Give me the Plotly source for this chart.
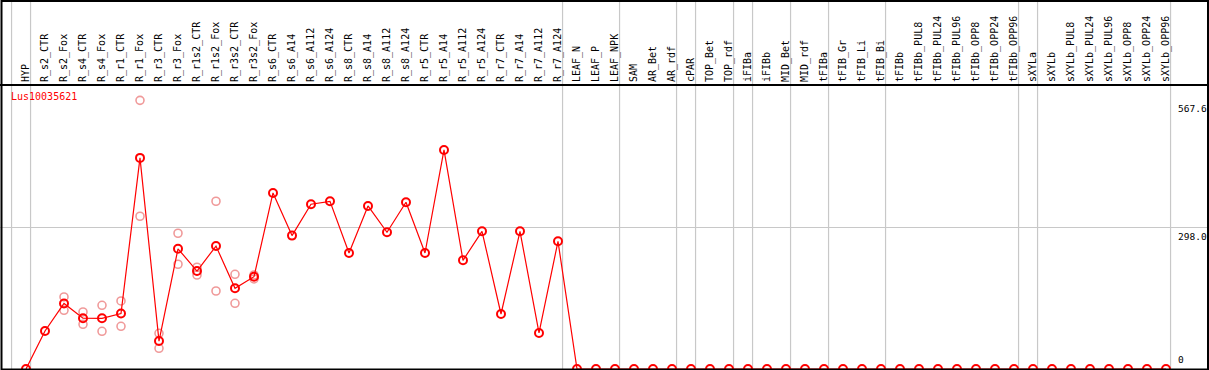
import plotly.graph_objects as go

categories = [
    "HYP", "R_s2_CTR", "R_s2_Fox", "R_s4_CTR", "R_s4_Fox", "R_r1_CTR", "R_r1_Fox",
    "R_r3_CTR", "R_r3_Fox", "R_r1s2_CTR", "R_r1s2_Fox", "R_r3s2_CTR", "R_r3s2_Fox",
    "R_s6_CTR", "R_s6_A14", "R_s6_A112", "R_s6_A124", "R_s8_CTR", "R_s8_A14",
    "R_s8_A112", "R_s8_A124", "R_r5_CTR", "R_r5_A14", "R_r5_A112", "R_r5_A124",
    "R_r7_CTR", "R_r7_A14", "R_r7_A112", "R_r7_A124", "LEAF_N", "LEAF_P", "LEAF_NPK",
    "SAM", "AR_Bet", "AR_rdf", "cPAR", "TOP_Bet", "TOP_rdf", "iFIBa", "iFIBb",
    "MID_Bet", "MID_rdf", "tFIBa", "tFIB_Gr", "tFIB_Li", "tFIB_Bi", "tFIBb",
    "tFIBb_PUL8", "tFIBb_PUL24", "tFIBb_PUL96", "tFIBb_OPP8", "tFIBb_OPP24",
    "tFIBb_OPP96", "sXYLa", "sXYLb", "sXYLb_PUL8", "sXYLb_PUL24", "sXYLb_PUL96",
    "sXYLb_OPP8", "sXYLb_OPP24", "sXYLb_OPP96",
]

mean_values = [
    0, 80.3, 138.5, 107.3, 107.1, 117.3, 446.0, 59.0, 254.0, 207.0, 259.7, 170.5,
    195.0, 371.9, 281.8, 348.0, 354.3, 245.1, 344.5, 288.8, 352.2, 245.1, 462.8,
    229.6, 290.9, 116.2, 290.9, 76.1, 269.8, 0, 0, 0,
    0, 0, 0, 0, 0, 0, 0, 0,
    0, 0, 0, 0, 0, 0, 0,
    0, 0, 0, 0, 0,
    0, 0, 0, 0, 0, 0,
    0, 0, 0,
]

rep_categories = [
    "R_s2_Fox", "R_s2_Fox", "R_s4_CTR", "R_s4_CTR", "R_s4_Fox", "R_s4_Fox",
    "R_r1_CTR", "R_r1_CTR", "R_r1_Fox", "R_r1_Fox", "R_r3_CTR", "R_r3_CTR",
    "R_r3_Fox", "R_r3_Fox", "R_r1s2_CTR", "R_r1s2_CTR", "R_r1s2_Fox", "R_r1s2_Fox",
    "R_r3s2_CTR", "R_r3s2_CTR", "R_r3s2_Fox", "R_r3s2_Fox",
]
rep_values = [
    152.2, 124.0, 120.5, 94.4, 134.6, 79.7,
    143.7, 90.2, 567.6, 322.7, 75.4, 43.7,
    286.8, 221.3, 215.0, 198.6, 354.4, 164.8,
    200.1, 138.8, 198.6, 190.2,
]

# index of the last category in each tissue group (separator drawn after it)
group_ends = [-1, 0, 28, 31, 34, 35, 37, 38, 40, 42, 45, 52, 53, 60]

y_ticks = [567.6, 298.0, 0]
y_tick_text = ["567.6", "298.0", "0"]
gene_name = "Lus10035621"

W, H = 1209, 370
TOP, BOTTOM = 85, 1
plot_h = H - TOP - BOTTOM
FONT = "DejaVu Sans Mono"
RED = "#ff0000"
PINK = "#f09a9a"
GRID = "#c8c8c8"

fig = go.Figure()

fig.add_trace(go.Scatter(
    x=rep_categories, y=rep_values, mode="markers",
    marker=dict(symbol="circle-open", size=8, color=PINK, line=dict(width=1.6, color=PINK)),
    hoverinfo="skip", showlegend=False,
))
fig.add_trace(go.Scatter(
    x=categories, y=mean_values, mode="lines+markers",
    line=dict(color=RED, width=1.2),
    marker=dict(symbol="circle-open", size=8, color=RED, line=dict(width=2, color=RED)),
    showlegend=False,
))

shapes = []
top_paper = 1 + TOP / plot_h
for e in group_ends:
    shapes.append(dict(type="line", xref="x", yref="paper", x0=e + 0.24, x1=e + 0.24,
                       y0=-0.01, y1=top_paper, line=dict(color=GRID, width=1.2), layer="below"))
# frame and header separator
px = lambda p: p / W
shapes.append(dict(type="line", xref="paper", yref="paper", x0=0, x1=1, y0=1, y1=1,
                   line=dict(color="black", width=2), layer="above"))
shapes.append(dict(type="rect", xref="paper", yref="paper", x0=px(1.5), x1=px(1208),
                   y0=-0.5 / plot_h, y1=top_paper - 1 / plot_h,
                   line=dict(color="black", width=2), layer="above"))

annotations = []
for v, t in zip(y_ticks, y_tick_text):
    annotations.append(dict(
        x=px(1176), xref="paper", y=v, yref="y", text=t, showarrow=False,
        xanchor="left", yanchor="bottom" if v == 0 else "top",
        yshift=2 if v == 0 else -1,
        font=dict(family=FONT, size=9.5, color="black"),
    ))
annotations.append(dict(
    x=px(9), xref="paper", y=1 - 12 / plot_h, yref="paper", text=gene_name,
    showarrow=False, xanchor="left", yanchor="middle",
    font=dict(family=FONT, size=10, color=RED),
))

fig.update_layout(
    width=W, height=H,
    margin=dict(l=0, r=0, t=TOP, b=BOTTOM, pad=0),
    paper_bgcolor="white", plot_bgcolor="white",
    shapes=shapes, annotations=annotations,
    xaxis=dict(
        type="category", categoryorder="array", categoryarray=categories,
        range=[-26 / 19, (W - 26) / 19],
        side="top", tickangle=-90, ticks="", showgrid=False, zeroline=False,
        showline=False, tickfont=dict(family=FONT, size=10, color="black"),
        ticklabelstandoff=2,
    ),
    yaxis=dict(
        range=[0, 600], tickvals=[298.0], showticklabels=False, ticks="",
        showgrid=True, gridcolor=GRID, gridwidth=1.2, zeroline=False, showline=False,
    ),
)

fig.write_html(
    "out.html",
    config={"displayModeBar": False},
    post_script="document.body.style.margin='0';document.body.style.overflow='hidden';",
)
